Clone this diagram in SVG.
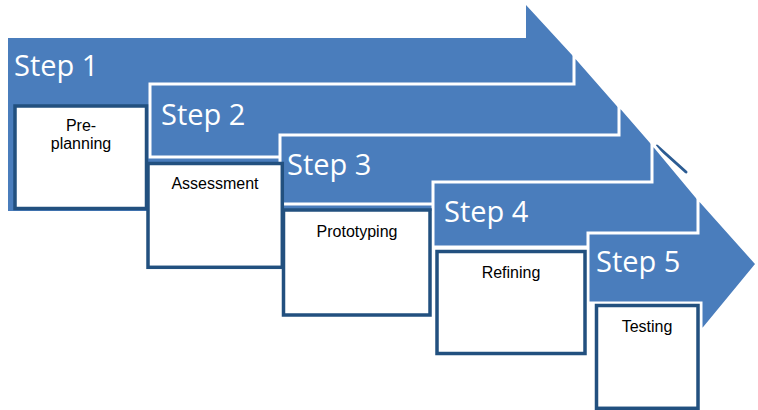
<svg xmlns="http://www.w3.org/2000/svg" width="758" height="410" viewBox="0 0 758 410">
  <style>
    .arrow { fill: #4a7dbc; stroke: #ffffff; stroke-width: 3; stroke-linejoin: miter; }
    .step-label { font-family: "Open Sans", "Liberation Sans", sans-serif; font-size: 29px; fill: #ffffff; }
    .box { fill: #ffffff; stroke: #22507f; stroke-width: 3.5; }
    .box-label { font-family: "Liberation Sans", Arial, sans-serif; font-size: 16px; fill: #000000; text-anchor: middle; }
    .edge-accent { stroke: #2c5c93; stroke-width: 3; stroke-linecap: round; fill: none; }
  </style>

  <rect x="0" y="0" width="758" height="410" fill="#ffffff"/>

  <!-- Chevron arrows, back to front -->
  <g id="arrow-step1">
    <polygon class="arrow" points="8,38 526,38 526,5 636,124.5 526,236 526,211 8,211" style="stroke:none"/>
    <text class="step-label" x="14" y="76">Step 1</text>
  </g>
  <g id="arrow-step2">
    <polygon class="arrow" points="150,84 574,84 574,55 631.5,120.5 574,186 574,157 150,157"/>
    <text class="step-label" x="161" y="125">Step 2</text>
  </g>
  <g id="arrow-step3">
    <polygon class="arrow" points="280,135 619,135 619,105 672,166 619,232 619,204 280,204"/>
    <line class="edge-accent" x1="657" y1="146" x2="686" y2="172"/>
    <text class="step-label" x="287" y="175">Step 3</text>
  </g>
  <g id="arrow-step4">
    <polygon class="arrow" points="433,182 652,182 652,143 712,215 640,320 640,247 433,247"/>
    <text class="step-label" x="444" y="222">Step 4</text>
  </g>
  <g id="arrow-step5">
    <polygon class="arrow" points="588,233 698,233 698,198 757,264 701,332 701,303 588,303"/>
    <text class="step-label" x="596" y="272">Step 5</text>
  </g>

  <!-- Description boxes -->
  <g id="box-step1">
    <rect class="box" x="15" y="106" width="131.5" height="102.5"/>
    <text class="box-label" x="81" y="131">Pre-</text>
    <text class="box-label" x="81" y="149">planning</text>
  </g>
  <g id="box-step2">
    <rect class="box" x="148" y="163.5" width="134.3" height="103.8"/>
    <text class="box-label" x="215" y="189">Assessment</text>
  </g>
  <g id="box-step3">
    <rect class="box" x="283.5" y="210" width="146.5" height="105"/>
    <text class="box-label" x="357" y="237">Prototyping</text>
  </g>
  <g id="box-step4">
    <rect class="box" x="437" y="251.5" width="148" height="102"/>
    <text class="box-label" x="511" y="278">Refining</text>
  </g>
  <g id="box-step5">
    <rect class="box" x="596.5" y="305.5" width="101.5" height="102.8"/>
    <text class="box-label" x="647" y="332">Testing</text>
  </g>
</svg>
